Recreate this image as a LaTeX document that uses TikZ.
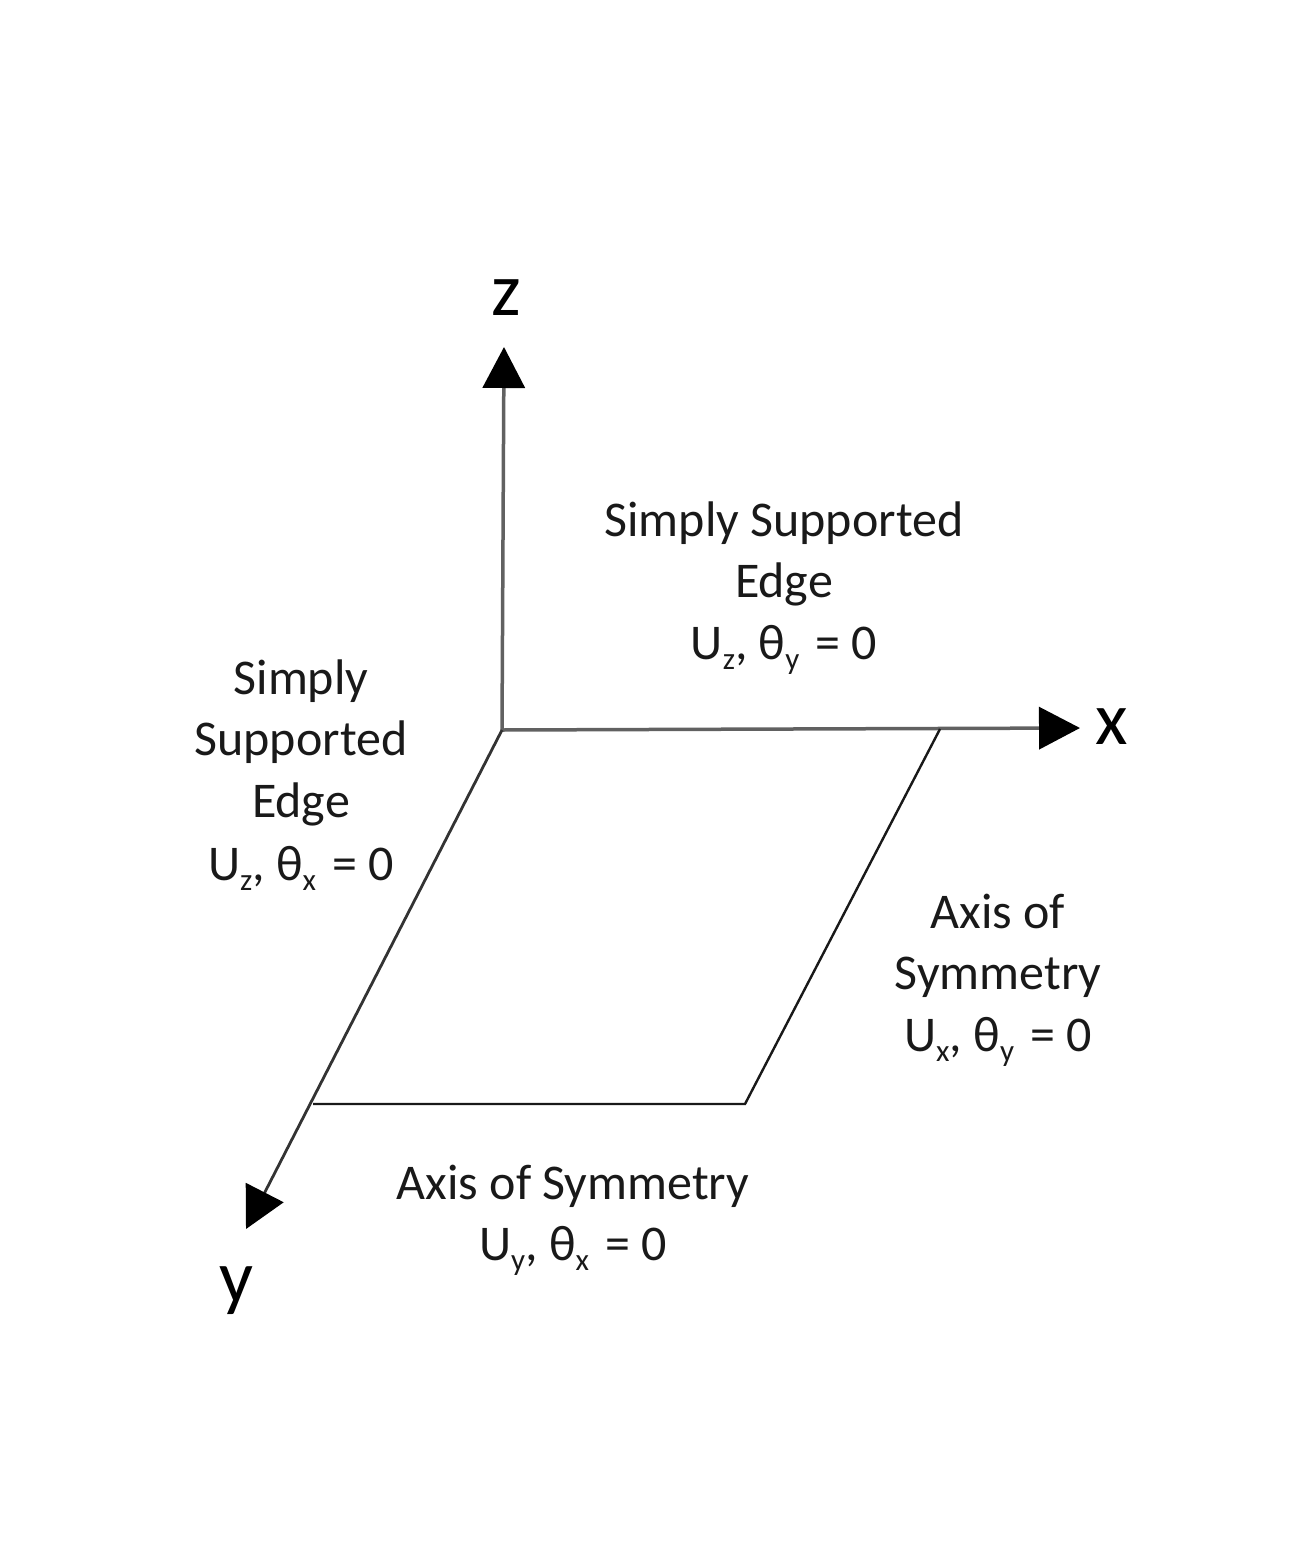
\documentclass[tikz,border=0pt]{standalone}
\usepackage{fontspec}
\setmainfont{Carlito}
\usetikzlibrary{arrows.meta}
\newcommand{\sbs}[1]{\raisebox{-10pt}{\fontsize{31}{31}\selectfont #1}}
\newcommand{\gapa}{\hspace{3pt}}
\newcommand{\gapb}{\hspace{5pt}}
\tikzset{
 lab/.style={align=center,font=\fontsize{50}{61.3}\selectfont,text=black!90,inner sep=0pt},
 axl/.style={font=\fontsize{75}{80}\selectfont,inner sep=0pt},
 edge/.style={line width=2.4pt,black!90},
 axis/.style={line width=3.5pt,black!62,-{Triangle[length=41pt,width=42pt,color=black]}}
}
\begin{document}
\begin{tikzpicture}[x=1pt,y=-1pt]
\useasboundingbox (0,0) rectangle (1301,1568);
\coordinate (O) at (502,730);
\coordinate (Z) at (504,347);
\coordinate (X) at (1080,728);
\coordinate (Y) at (246,1229);
\coordinate (A) at (940,729);
\coordinate (B) at (745,1104);
\coordinate (C) at (313,1104);
\draw[axis] (O) -- (Z);
\draw[axis] (O) -- (X);
\draw[line width=2.8pt,black!80,-{Triangle[length=41pt,width=42pt,color=black]}] (O) -- (Y);
\draw[edge] (A) -- (B) -- (C);
\node[axl] (zl) at (506,298) {z};
\node[axl] (xl) at (1112,727) {x};
\node[axl] (yl) at (236,1291) {y};
\node[lab] (t1) at (784,588) {Simply Supported\\Edge\\U\sbs{z}, θ\sbs{y}\gapb{} = 0};
\node[lab] (t2) at (301,775) {Simply\\Supported\\Edge\\[1.5pt]U\sbs{z}, θ\sbs{x}\gapb{} = 0};
\node[lab] (t3) at (998,980) {Axis of\\Symmetry\\U\sbs{x}, θ\sbs{y}\gapb{} = 0};
\node[lab] (t4) at (573,1220) {Axis of Symmetry\\U\sbs{y}, θ\sbs{x}\gapb{} = 0};
\end{tikzpicture}
\end{document}
